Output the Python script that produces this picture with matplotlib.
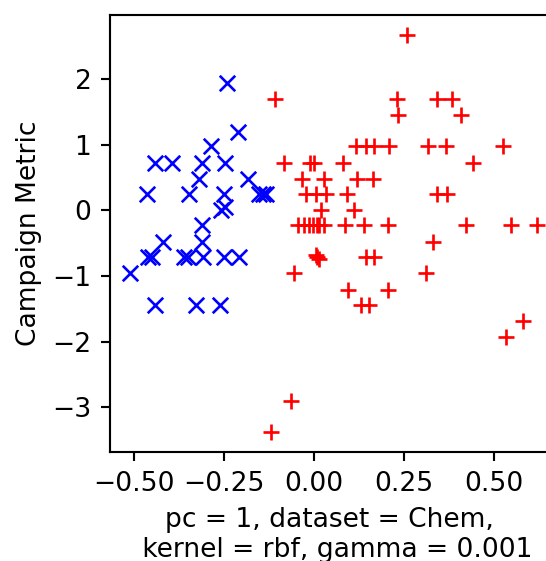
import matplotlib
matplotlib.use("Agg")
import matplotlib.pyplot as plt

# class 0 (blue x)
blue_x = [-0.240, -0.210, -0.286, -0.441, -0.394, -0.312, -0.247, -0.318, -0.183,
          -0.465, -0.346, -0.251, -0.152, -0.142, -0.133, -0.257, -0.248,
          -0.312, -0.312, -0.420, -0.462, -0.450, -0.360, -0.350, -0.308,
          -0.249, -0.207, -0.510, -0.441, -0.328, -0.261]
blue_y = [1.93, 1.19, 0.97, 0.72, 0.72, 0.72, 0.72, 0.48, 0.48,
          0.25, 0.25, 0.25, 0.25, 0.25, 0.25, 0.00, 0.05,
          -0.23, -0.48, -0.48, -0.72, -0.72, -0.72, -0.72, -0.72,
          -0.72, -0.72, -0.96, -1.45, -1.45, -1.45]

# class 1 (red +)
red_x = [0.260,
         -0.108, 0.232, 0.341, 0.385,
         0.235, 0.408,
         0.117, 0.144, 0.166, 0.209, 0.316, 0.367, 0.526,
         -0.082, -0.012, -0.001, 0.082, 0.441,
         -0.034, 0.027, 0.119, 0.163,
         -0.022, 0.006, 0.033, 0.092, 0.341, 0.371,
         0.019, 0.112,
         -0.045, -0.027, -0.013, -0.002, 0.010, 0.014, 0.029, 0.087, 0.138, 0.206, 0.422, 0.547, 0.619,
         0.330,
         0.005, 0.010, 0.013, 0.144, 0.168,
         -0.056, 0.311,
         0.094, 0.205,
         0.131, 0.154,
         0.582, 0.535, -0.064, -0.119]
red_y = [2.67,
         1.69, 1.69, 1.69, 1.69,
         1.45, 1.45,
         0.97, 0.97, 0.97, 0.97, 0.97, 0.97, 0.97,
         0.72, 0.72, 0.72, 0.72, 0.72,
         0.48, 0.48, 0.48, 0.48,
         0.25, 0.25, 0.25, 0.25, 0.25, 0.25,
         0.00, 0.00,
         -0.23, -0.23, -0.23, -0.23, -0.23, -0.23, -0.23, -0.23, -0.23, -0.23, -0.23, -0.23, -0.23,
         -0.48,
         -0.69, -0.72, -0.75, -0.72, -0.72,
         -0.96, -0.96,
         -1.21, -1.21,
         -1.45, -1.45,
         -1.69, -1.93, -2.90, -3.38]

DPI = 191
fig = plt.figure(figsize=(546 / DPI, 561 / DPI), dpi=DPI)
# axes runs a little past the right edge (source image is cropped there)
ax = fig.add_axes([110 / 546, 109 / 561, 447 / 546, 437 / 561])

ax.scatter(blue_x, blue_y, marker="x", c="b", s=34, linewidths=1.0)
ax.scatter(red_x, red_y, marker="+", c="r", s=34, linewidths=1.0)

ax.set_xticks([-0.5, -0.25, 0.0, 0.25, 0.5])
ax.set_yticks([-3, -2, -1, 0, 1, 2])
ax.set_ylabel("Campaign Metric")
ax.set_xlabel("pc = 1, dataset = Chem, \n kernel = rbf, gamma = 0.001")

fig.savefig("out.png", dpi=DPI)
